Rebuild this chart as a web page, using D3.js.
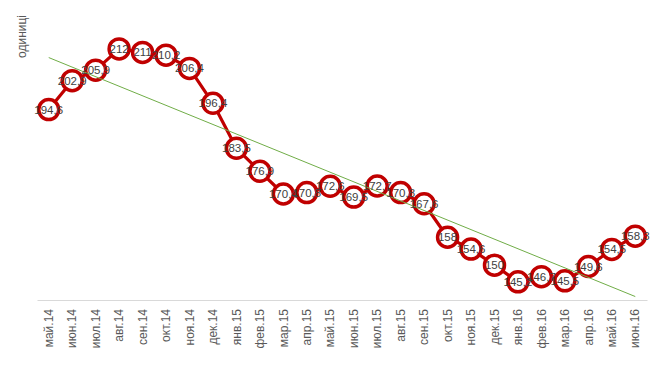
<!DOCTYPE html>
<html><head><meta charset="utf-8">
<script src="https://cdn.jsdelivr.net/npm/d3@7"></script>
<style>body{margin:0;background:#fff}svg{display:block}</style>
</head><body>
<script>
const categories = ["май.14","июн.14","июл.14","авг.14","сен.14","окт.14","ноя.14","дек.14","янв.15","фев.15","мар.15","апр.15","май.15","июн.15","июл.15","авг.15","сен.15","окт.15","ноя.15","дек.15","янв.16","фев.16","мар.16","апр.16","май.16","июн.16"];
const values = [194.6,202.9,205.9,212,211,210.2,206.4,196.4,183.5,176.9,170.4,170.8,172.6,169.5,172.7,170.8,167.6,158,154.6,150,145.2,146.7,145.5,149.6,154.5,158.3];
const yTitle = "одиниці";

const W = 666, H = 371;
const FONT = "Liberation Sans, Arial, sans-serif";
const svg = d3.select("body").append("svg").attr("width", W).attr("height", H);
const x = d3.scaleBand().domain(categories).range([37, 647]);
const cx = d => x(d) + x.bandwidth() / 2;
const y = d3.scaleLinear().domain([140, 220]).range([300, 21]);

// axis
const xAxis = d3.axisBottom(x).tickSize(0).tickPadding(0);
const gx = svg.append("g").attr("transform", "translate(0,300)").call(xAxis);
gx.select(".domain").attr("stroke", "#d9d9d9").attr("stroke-width", 1);
gx.selectAll("text")
  .attr("font-family", FONT)
  .attr("font-size", 12).attr("fill", "#595959")
  .attr("transform", "rotate(-90)")
  .attr("text-anchor", "end").attr("dy", "0.35em").attr("x", -9).attr("y", 0);

// y title
svg.append("text").attr("transform", "translate(26,15) rotate(-90)")
  .attr("text-anchor", "end")
  .attr("font-family", FONT)
  .attr("font-size", 12).attr("fill", "#595959").text(yTitle);

const pts = categories.map((c, i) => ({c, v: values[i], i}));

// series line
svg.append("path").datum(pts)
  .attr("fill", "none").attr("stroke", "#C00000").attr("stroke-width", 3.2)
  .attr("stroke-linejoin", "round")
  .attr("d", d3.line().x(d => cx(d.c)).y(d => y(d.v)));

// markers
svg.append("g").selectAll("circle").data(pts).join("circle")
  .attr("cx", d => cx(d.c)).attr("cy", d => y(d.v)).attr("r", 10)
  .attr("fill", "#fff").attr("stroke", "#C00000").attr("stroke-width", 3.5);

// linear trendline (least squares)
const n = values.length;
const mx = d3.mean(pts, d => d.i), my = d3.mean(values);
const slope = d3.sum(pts, d => (d.i - mx) * (d.v - my)) / d3.sum(pts, d => (d.i - mx) ** 2);
const icpt = my - slope * mx;
const ends = [pts[0], pts[n - 1]];
svg.append("path").datum(ends)
  .attr("fill", "none").attr("stroke", "#70AD47").attr("stroke-width", 1)
  .attr("d", d3.line().x(d => cx(d.c)).y(d => y(icpt + slope * d.i)));

// labels
svg.append("g").selectAll("text").data(pts).join("text")
  .attr("x", d => cx(d.c)).attr("y", d => y(d.v)).attr("dy", "0.35em")
  .attr("text-anchor", "middle")
  .attr("font-family", FONT)
  .attr("font-size", 11.5).attr("fill", "#404040")
  .text(d => String(d.v).replace(".", ","));
</script>
</body></html>
